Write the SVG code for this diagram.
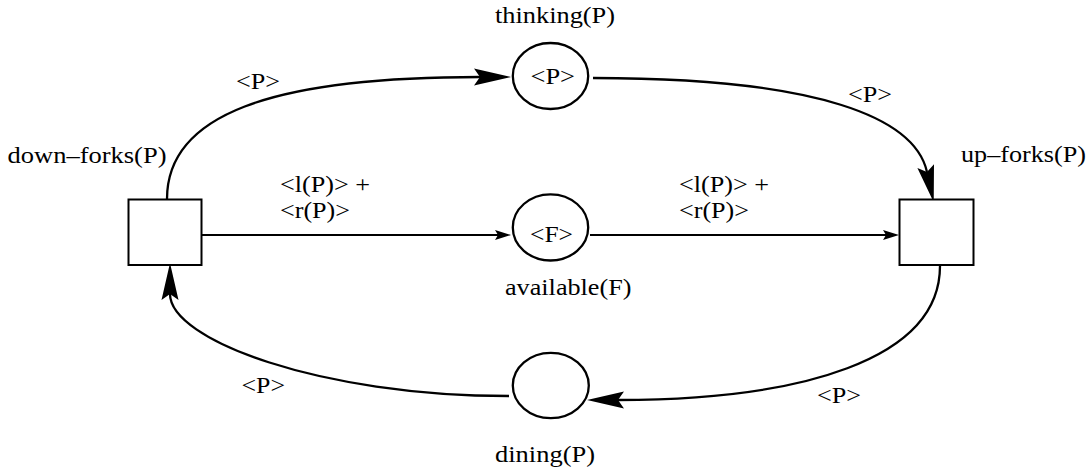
<svg xmlns="http://www.w3.org/2000/svg" width="1090" height="473" viewBox="0 0 1090 473">
<style>
text{font-family:'Liberation Serif','Times New Roman',Times,serif;font-size:22.5px;fill:#000}
.place{fill:#fff;stroke:#000;stroke-width:2.3}
.trans{fill:#fff;stroke:#000;stroke-width:2}
.arc{fill:none;stroke:#000;stroke-width:2.3}
.line{fill:none;stroke:#000;stroke-width:2}
</style>
<defs>
<marker id="big" markerUnits="userSpaceOnUse" markerWidth="40" markerHeight="20" refX="6" refY="10" orient="auto" overflow="visible">
<path d="M0,1.5 L37,10 L0,18.5 L6,10 Z" fill="#000"/>
</marker>
<marker id="small" markerUnits="userSpaceOnUse" markerWidth="18" markerHeight="12" refX="3" refY="5" orient="auto" overflow="visible">
<path d="M0,0 L16,5 L0,10 L3,5 Z" fill="#000"/>
</marker>
</defs>
<g id="connectors">
<path class="arc" d="M167,199 C167,115 270,77 480,77" marker-end="url(#big)"/>
<path class="arc" d="M593,78 C820,78 915,118 927,172" marker-end="url(#big)"/>
<path class="arc" d="M940,266 C940,360 800,400 618,400" marker-end="url(#big)"/>
<path class="arc" d="M509,396 C320,396 170,340 170,294" marker-end="url(#big)"/>
<path class="line" d="M202,235 L498,235" marker-end="url(#small)"/>
<path class="line" d="M590,235 L886,235" marker-end="url(#small)"/>
<text x="236" y="89" textLength="44" lengthAdjust="spacingAndGlyphs">&lt;P&gt;</text>
<text x="848" y="101.5" textLength="44" lengthAdjust="spacingAndGlyphs">&lt;P&gt;</text>
<text x="241.5" y="393" textLength="43.5" lengthAdjust="spacingAndGlyphs">&lt;P&gt;</text>
<text x="817" y="403" textLength="44" lengthAdjust="spacingAndGlyphs">&lt;P&gt;</text>
<text x="280" y="192" textLength="90" lengthAdjust="spacingAndGlyphs">&lt;l(P)&gt; +</text>
<text x="280" y="218" textLength="70" lengthAdjust="spacingAndGlyphs">&lt;r(P)&gt;</text>
<text x="679" y="192" textLength="90" lengthAdjust="spacingAndGlyphs">&lt;l(P)&gt; +</text>
<text x="679" y="218" textLength="70" lengthAdjust="spacingAndGlyphs">&lt;r(P)&gt;</text>
</g>
<g id="thinking">
<ellipse class="place" cx="550.5" cy="76" rx="37.7" ry="33"/>
<text x="530.5" y="83.5" textLength="44.5" lengthAdjust="spacingAndGlyphs">&lt;P&gt;</text>
<text x="495" y="23" textLength="120" lengthAdjust="spacingAndGlyphs">thinking(P)</text>
</g>
<g id="available">
<ellipse class="place" cx="550.5" cy="227.4" rx="37.7" ry="33.1"/>
<text x="530" y="241.5" textLength="43" lengthAdjust="spacingAndGlyphs">&lt;F&gt;</text>
<text x="505" y="295" textLength="126.5" lengthAdjust="spacingAndGlyphs">available(F)</text>
</g>
<g id="dining">
<ellipse class="place" cx="550.8" cy="385.5" rx="38" ry="32.6"/>
<text x="495" y="461.5" textLength="100" lengthAdjust="spacingAndGlyphs">dining(P)</text>
</g>
<g id="down-forks">
<rect class="trans" x="128.5" y="199.5" width="73" height="65.5"/>
<text x="7.5" y="162.5" textLength="159" lengthAdjust="spacingAndGlyphs">down–forks(P)</text>
</g>
<g id="up-forks">
<rect class="trans" x="899.5" y="199.5" width="74" height="65.5"/>
<text x="961" y="161.5" textLength="125" lengthAdjust="spacingAndGlyphs">up–forks(P)</text>
</g>
</svg>
